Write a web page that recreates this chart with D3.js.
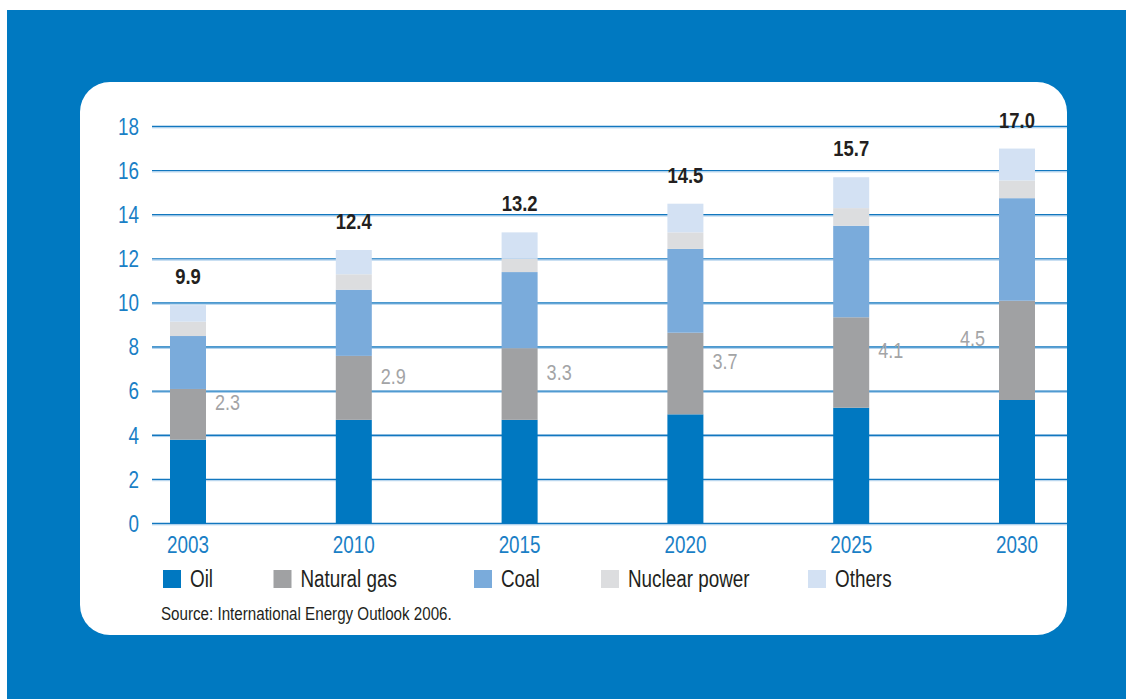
<!DOCTYPE html>
<html>
<head>
<meta charset="utf-8">
<script src="https://cdn.jsdelivr.net/npm/d3@7"></script>
<style>
  html, body { margin: 0; padding: 0; background: #ffffff; }
  svg { display: block; }
  text { font-family: "Liberation Sans", Arial, sans-serif; }
</style>
</head>
<body>
<svg id="chart" width="1126" height="699"></svg>
<script>
// ---- data ----
const years = ["2003", "2010", "2015", "2020", "2025", "2030"];
const seriesNames = ["Oil", "Natural gas", "Coal", "Nuclear power", "Others"];
const oil     = [3.8, 4.7, 4.7, 4.95, 5.25, 5.6];
const gas     = [2.3, 2.9, 3.25, 3.7, 4.1, 4.5];
const coal    = [2.4, 3.0, 3.45, 3.8, 4.15, 4.65];
const nuclear = [0.65, 0.7, 0.6, 0.75, 0.8, 0.8];
const others  = [0.75, 1.1, 1.2, 1.3, 1.4, 1.45];
const totalLabels = ["9.9", "12.4", "13.2", "14.5", "15.7", "17.0"];
const gasLabels = ["2.3", "2.9", "3.3", "3.7", "4.1", "4.5"];
const yTicks = [0, 2, 4, 6, 8, 10, 12, 14, 16, 18];
const sourceText = "Source: International Energy Outlook 2006.";

const colors = ["#0078c1", "#a0a1a3", "#7aabdb", "#dcdddf", "#d3e1f3"];

const rows = years.map((y, i) => ({
  year: y,
  "Oil": oil[i], "Natural gas": gas[i], "Coal": coal[i],
  "Nuclear power": nuclear[i], "Others": others[i]
}));

const SX = 0.82; // condensed look
const tf = (px, py) => `translate(${px},${py}) scale(${SX},1)`;

const svg = d3.select("#chart");

// background
svg.append("rect").attr("x", 7).attr("y", 10).attr("width", 1119).attr("height", 689).attr("fill", "#0079c1");
svg.append("rect").attr("x", 80).attr("y", 82).attr("width", 987).attr("height", 553)
  .attr("rx", 30).attr("ry", 30).attr("fill", "#ffffff");

const y = d3.scaleLinear().domain([0, 18]).range([523.5, 126.5]);
const x = d3.scalePoint().domain(years).range([188, 1017]);
const barW = 36;

// gridlines + tick labels
const grid = svg.append("g");
grid.selectAll("line.dk").data(yTicks).join("line").attr("class", "dk")
  .attr("x1", 152).attr("x2", 1067)
  .attr("y1", d => y(d)).attr("y2", d => y(d))
  .attr("stroke", "#1277bf").attr("stroke-width", 1.4);
grid.selectAll("line.lt").data(yTicks).join("line").attr("class", "lt")
  .attr("x1", 152).attr("x2", 1067)
  .attr("y1", d => y(d) + 1.3).attr("y2", d => y(d) + 1.3)
  .attr("stroke", "#a9cdeb").attr("stroke-width", 1);
grid.selectAll("text").data(yTicks).join("text")
  .attr("transform", d => tf(139, y(d))).attr("dy", "0.36em")
  .attr("text-anchor", "end").attr("font-size", 23).attr("fill", "#1a7fc6")
  .text(d => d);

// stacked bars
const stacked = d3.stack().keys(seriesNames)(rows);
svg.append("g").selectAll("g").data(stacked).join("g")
  .attr("fill", (d, i) => colors[i])
  .selectAll("rect").data(d => d).join("rect")
  .attr("x", d => x(d.data.year) - barW / 2)
  .attr("width", barW)
  .attr("y", d => y(d[1]))
  .attr("height", d => y(d[0]) - y(d[1]));

// total labels
const topLayer = stacked[stacked.length - 1];
svg.append("g").selectAll("text").data(topLayer).join("text")
  .attr("transform", d => tf(x(d.data.year), y(d[1]) - 21))
  .attr("text-anchor", "middle").attr("font-size", 22.5).attr("font-weight", "bold")
  .attr("fill", "#231f20")
  .text((d, i) => totalLabels[i]);

// gas labels
const gasLayer = stacked[1];
const last = years.length - 1;
svg.append("g").selectAll("text").data(gasLayer).join("text")
  .attr("transform", (d, i) => tf(
    i === last ? x(d.data.year) - barW / 2 - 14 : x(d.data.year) + barW / 2 + 9,
    (y(d[0]) + y(d[1])) / 2 - 12))
  .attr("text-anchor", (d, i) => i === last ? "end" : "start")
  .attr("dy", "0.36em")
  .attr("font-size", 22).attr("fill", "#a3a4a6")
  .text((d, i) => gasLabels[i]);

// year labels
svg.append("g").selectAll("text").data(years).join("text")
  .attr("transform", d => tf(x(d), 553))
  .attr("text-anchor", "middle").attr("font-size", 23).attr("fill", "#1a7fc6")
  .text(d => d);

// legend
const legendX = [163, 273.5, 474, 601, 808];
const lg = svg.append("g").selectAll("g").data(seriesNames).join("g")
  .attr("transform", (d, i) => `translate(${legendX[i]},570)`);
lg.append("rect").attr("width", 18).attr("height", 18).attr("fill", (d, i) => colors[i]);
lg.append("text").attr("transform", tf(27, 9)).attr("dy", "0.36em")
  .attr("font-size", 23).attr("fill", "#231f20").text(d => d);

// source
svg.append("text").attr("transform", tf(161, 620))
  .attr("font-size", 18.5).attr("fill", "#231f20").text(sourceText);
</script>
</body>
</html>
